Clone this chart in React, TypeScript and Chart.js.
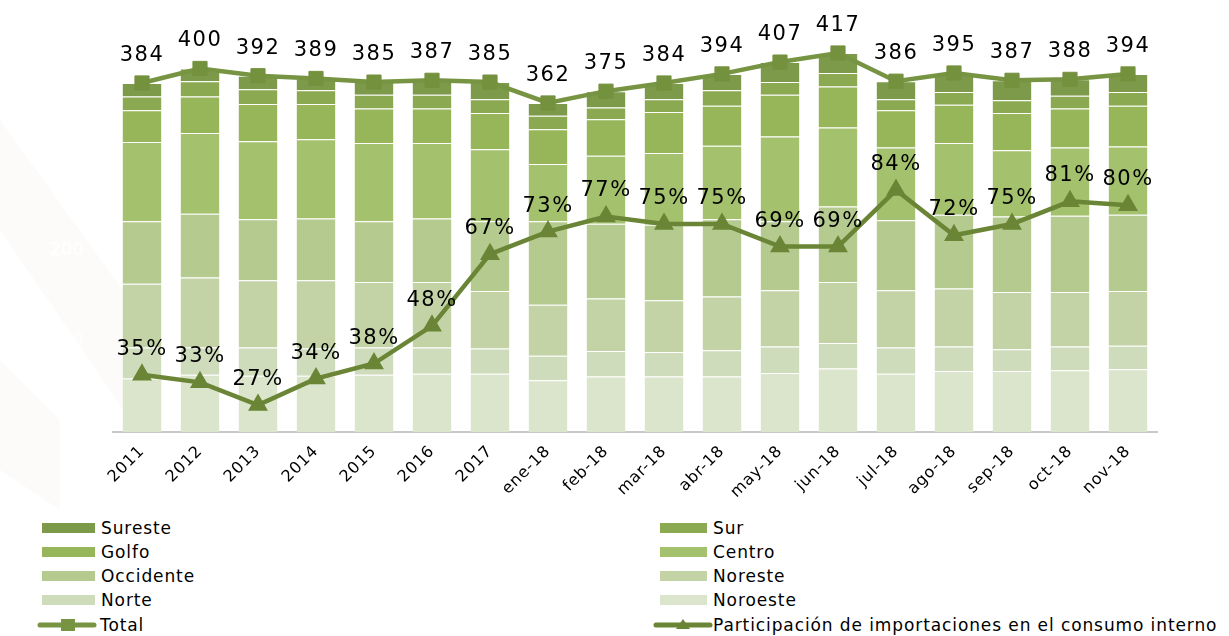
import React, { useEffect, useRef } from "react";
import { Chart, registerables } from "chart.js";

Chart.register(...registerables);

const categories = ["2011", "2012", "2013", "2014", "2015", "2016", "2017", "ene-18", "feb-18", "mar-18", "abr-18", "may-18", "jun-18", "jul-18", "ago-18", "sep-18", "oct-18", "nov-18"];
const noroeste = [59, 63, 62, 62, 63, 64, 64, 57, 61, 61, 61, 65, 70, 64, 67, 67, 68, 69];
const norte = [34, 30, 31, 30, 30, 29, 28, 27, 28, 27, 29, 29, 28, 29, 27, 24, 26, 26];
const noreste = [70, 77, 74, 75, 72, 72, 63, 56, 58, 57, 59, 62, 67, 63, 64, 63, 60, 60];
const occidente = [69, 70, 67, 68, 67, 70, 77, 92, 82, 83, 85, 76, 83, 77, 81, 83, 84, 84];
const centro = [87, 89, 86, 87, 86, 83, 79, 63, 75, 79, 81, 93, 87, 80, 79, 73, 75, 75];
const golfo = [35, 40, 41, 39, 38, 38, 40, 38, 40, 45, 44, 46, 45, 41, 42, 41, 43, 45];
const sur = [15, 17, 16, 15, 15, 15, 15, 15, 13, 14, 17, 14, 15, 12, 14, 14, 14, 15];
const sureste = [15, 14, 15, 13, 14, 16, 19, 14, 18, 18, 18, 22, 22, 20, 21, 22, 18, 20];
const totals = [384, 400, 392, 389, 385, 387, 385, 362, 375, 384, 394, 407, 417, 386, 395, 387, 388, 394];
const participation = [35, 33, 27, 34, 38, 48, 67, 73, 77, 75, 75, 69, 69, 84, 72, 75, 81, 80];
const yTickLabels = ["0", "100", "200", "300"];
const yTickValues = [0, 100, 200, 300];

const FONT = "'DejaVu Sans', 'Noto Sans', sans-serif";

const barSeries = [
  { label: "Noroeste", data: noroeste, color: "#dbe5cb" },
  { label: "Norte", data: norte, color: "#cfdcbb" },
  { label: "Noreste", data: noreste, color: "#c3d3a6" },
  { label: "Occidente", data: occidente, color: "#b5ca8f" },
  { label: "Centro", data: centro, color: "#a4c16e" },
  { label: "Golfo", data: golfo, color: "#97b65a" },
  { label: "Sur", data: sur, color: "#8aa951" },
  { label: "Sureste", data: sureste, color: "#7d9a4a" },
];

const totalColor = "#779443";
const partColor = "#6a8535";

const legendRows: [string, string][] = [
  ["Sureste", "Sur"],
  ["Golfo", "Centro"],
  ["Occidente", "Noreste"],
  ["Norte", "Noroeste"],
];

const bgPlugin = {
  id: "bgStripes",
  beforeDraw(chart: any) {
    const ctx = chart.ctx;
    ctx.save();
    ctx.fillStyle = "rgba(238,234,226,0.18)";
    const bands = [
      [[0, 120], [0, 230], [130, 420], [130, 300]],
      [[0, 360], [0, 470], [60, 510], [60, 420]],
    ];
    bands.forEach((b) => {
      ctx.beginPath();
      ctx.moveTo(b[0][0], b[0][1]);
      for (let i = 1; i < b.length; i++) ctx.lineTo(b[i][0], b[i][1]);
      ctx.closePath();
      ctx.fill();
    });
    ctx.restore();
    ctx.letterSpacing = "0.8px";
  },
};

const labelPlugin = {
  id: "valueLabels",
  afterDatasetsDraw(chart: any) {
    const ctx = chart.ctx;
    ctx.save();
    ctx.letterSpacing = "1.5px";
    ctx.fillStyle = "#000";
    ctx.font = `21px ${FONT}`;
    ctx.textAlign = "center";
    ctx.textBaseline = "alphabetic";
    chart.data.datasets.forEach((ds: any, i: number) => {
      if (ds.labelKind !== "total" && ds.labelKind !== "pct") return;
      const meta = chart.getDatasetMeta(i);
      meta.data.forEach((pt: any, j: number) => {
        const v = ds.data[j];
        const txt = ds.labelKind === "pct" ? `${v}%` : `${v}`;
        const off = ds.labelKind === "pct" ? 20 : 22;
        ctx.fillText(txt, pt.x, pt.y - off);
      });
    });
    // faint (white) value-axis labels, as in the original
    const y = chart.scales.y;
    ctx.letterSpacing = "0px";
    ctx.fillStyle = "#ffffff";
    ctx.font = `18px ${FONT}`;
    ctx.textAlign = "right";
    ctx.textBaseline = "middle";
    yTickValues.forEach((v, k) => {
      ctx.fillText(yTickLabels[k], 84, y.getPixelForValue(v));
    });
    ctx.restore();
  },
};

function Swatch({ color, w }: { color: string; w: number }) {
  return <div style={{ width: w, height: 10, background: color, flex: "none" }} />;
}

function LineSwatch({ color, marker }: { color: string; marker: "rect" | "tri" }) {
  return (
    <svg width="60" height="16" style={{ flex: "none" }}>
      <line x1="3" y1="8" x2="57" y2="8" stroke={color} strokeWidth="5" strokeLinecap="round" />
      {marker === "rect" ? (
        <rect x="24" y="2" width="14" height="12" fill={color} />
      ) : (
        <polygon points="30,2 37,12 23,12" fill={color} />
      )}
    </svg>
  );
}

export default function App() {
  const ref = useRef<HTMLCanvasElement | null>(null);

  useEffect(() => {
    if (!ref.current) return;
    const datasets: any[] = barSeries.map((s) => ({
      type: "bar",
      label: s.label,
      data: s.data,
      backgroundColor: s.color,
      borderColor: "rgba(255,255,255,0.45)",
      borderWidth: { top: 1, right: 0, bottom: 0, left: 0 },
      borderSkipped: false,
      stack: "regions",
      yAxisID: "y",
      order: 2,
      barPercentage: 0.67,
      categoryPercentage: 1.0,
    }));
    datasets.push({
      type: "line",
      label: "Total",
      data: totals,
      yAxisID: "y",
      borderColor: totalColor,
      backgroundColor: totalColor,
      borderWidth: 4.5,
      pointStyle: "rect",
      pointRadius: 10,
      pointBackgroundColor: "#74913e",
      pointBorderColor: "#74913e",
      pointBorderWidth: 1,
      tension: 0,
      order: 1,
      labelKind: "total",
    });
    datasets.push({
      type: "line",
      label: "Participación de importaciones en el consumo interno",
      data: participation,
      yAxisID: "y2",
      borderColor: partColor,
      backgroundColor: partColor,
      borderWidth: 4.5,
      pointStyle: "triangle",
      pointRadius: 7,
      pointBackgroundColor: partColor,
      pointBorderColor: partColor,
      tension: 0,
      order: 0,
      labelKind: "pct",
    });

    const chart = new Chart(ref.current, {
      type: "bar",
      data: { labels: categories, datasets },
      options: {
        responsive: false,
        animation: false,
        layout: { padding: { top: 23, right: 72, left: 0, bottom: 0 } },
        plugins: {
          legend: { display: false },
          tooltip: { enabled: false },
        },
        scales: {
          x: {
            stacked: true,
            grid: { display: false },
            border: { display: true, color: "#c8c8c8", width: 2 },
            ticks: {
              autoSkip: false,
              minRotation: 45,
              maxRotation: 45,
              color: "#000",
              padding: 2,
              font: { family: FONT, size: 16 },
            },
            afterFit: (scale: any) => {
              scale.height = 78;
            },
          },
          y: {
            stacked: true,
            min: 0,
            max: 450,
            grid: { display: false },
            border: { display: false },
            ticks: { display: false },
            afterFit: (scale: any) => {
              scale.width = 113;
            },
          },
          y2: {
            display: false,
            position: "right",
            min: 19.84,
            max: 128.3,
          },
        },
      } as any,
      plugins: [bgPlugin, labelPlugin],
    });
    return () => chart.destroy();
  }, []);

  const textStyle: React.CSSProperties = {
    fontFamily: FONT,
    fontSize: 17,
    letterSpacing: "0.9px",
    color: "#000",
    lineHeight: "24px",
    whiteSpace: "nowrap",
  };

  const colorOf = (name: string) => barSeries.find((s) => s.label === name)!.color;

  return (
    <div style={{ position: "fixed", left: 0, top: 0, width: 1229, height: 636, background: "#fff", overflow: "hidden" }}>
      <canvas ref={ref} width={1229} height={510} style={{ display: "block", width: 1229, height: 510 }} />
      {legendRows.map((row, i) => (
        <React.Fragment key={i}>
          <div style={{ position: "absolute", left: 42, top: 516 + i * 24, display: "flex", alignItems: "center", gap: 6, ...textStyle }}>
            <Swatch color={colorOf(row[0])} w={53} />
            <span>{row[0]}</span>
          </div>
          <div style={{ position: "absolute", left: 660, top: 516 + i * 24, display: "flex", alignItems: "center", gap: 6, ...textStyle }}>
            <Swatch color={colorOf(row[1])} w={47} />
            <span>{row[1]}</span>
          </div>
        </React.Fragment>
      ))}
      <div style={{ position: "absolute", left: 37, top: 613, display: "flex", alignItems: "center", gap: 3, ...textStyle }}>
        <LineSwatch color={totalColor} marker="rect" />
        <span>Total</span>
      </div>
      <div style={{ position: "absolute", left: 653, top: 613, display: "flex", alignItems: "center", gap: 0, ...textStyle }}>
        <LineSwatch color={partColor} marker="tri" />
        <span>Participación de importaciones en el consumo interno</span>
      </div>
    </div>
  );
}
